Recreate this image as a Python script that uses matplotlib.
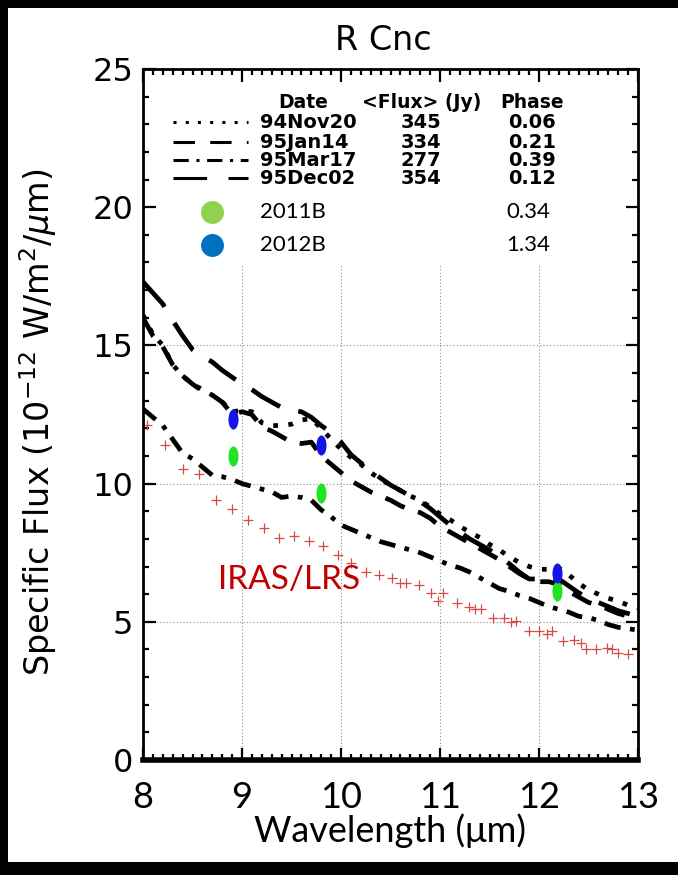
import matplotlib
matplotlib.use('Agg')
import matplotlib.pyplot as plt
from matplotlib.patches import Rectangle
from matplotlib.path import Path
from matplotlib.transforms import Affine2D
from matplotlib.ticker import MultipleLocator

# wavelength grid (um) of the 1994/95 spectra
wave = [8.0, 8.1, 8.2, 8.3, 8.4, 8.5, 8.6, 8.7, 8.8, 8.9,
        9.0, 9.1, 9.2, 9.3, 9.4, 9.5, 9.6, 9.7, 9.8, 9.9,
        10.0, 10.1, 10.2, 10.3, 10.4, 10.5, 10.6, 10.7, 10.8, 10.9,
        11.0, 11.1, 11.2, 11.3, 11.4, 11.5, 11.6, 11.7, 11.8, 11.9,
        12.0, 12.1, 12.2, 12.3, 12.4, 12.5, 12.6, 12.7, 12.8, 12.9, 13.0]

flux_94nov20 = [16.1, 15.4, 15.0, 14.3, 13.9, 13.6, 13.4, 13.2, 12.95, 12.6,
                12.65, 12.6, 12.2, 12.1, 12.1, 12.15, 12.3, 12.35, 12.0, 11.6,
                11.25, 10.95, 10.7, 10.4, 10.15, 9.95, 9.75, 9.55, 9.4, 9.15,
                8.9, 8.7, 8.45, 8.25, 8.05, 7.8, 7.6, 7.35, 7.15, 7.0,
                6.9, 6.9, 6.95, 6.7, 6.4, 6.15, 6.0, 5.85, 5.75, 5.6, 5.5]

flux_95jan14 = [16.0, 15.35, 14.95, 14.3, 13.9, 13.6, 13.35, 13.2, 12.95, 12.5,
                12.6, 12.5, 12.05, 11.9, 11.7, 11.5, 11.45, 11.5, 11.0, 10.7,
                10.4, 10.1, 9.9, 9.7, 9.55, 9.4, 9.2, 9.05, 8.95, 8.75,
                8.45, 8.25, 8.05, 7.85, 7.65, 7.45, 7.25, 7.0, 6.75, 6.55,
                6.45, 6.45, 6.35, 6.1, 5.9, 5.7, 5.6, 5.45, 5.3, 5.2, 5.1]

flux_95mar17 = [12.7, 12.4, 12.1, 11.6, 11.1, 10.9, 10.6, 10.3, 10.25, 10.15,
                10.0, 9.9, 9.8, 9.7, 9.5, 9.55, 9.5, 9.4, 9.05, 8.8,
                8.5, 8.35, 8.2, 8.05, 7.9, 7.8, 7.7, 7.6, 7.5, 7.35,
                7.2, 7.05, 6.95, 6.8, 6.6, 6.4, 6.2, 6.1, 5.95, 5.85,
                5.7, 5.55, 5.45, 5.35, 5.2, 5.15, 5.05, 4.9, 4.8, 4.75, 4.7]

flux_95dec02 = [17.3, 16.9, 16.5, 15.9, 15.35, 14.85, 14.6, 14.4, 14.1, 13.85,
                13.6, 13.4, 13.15, 12.95, 12.75, 12.65, 12.6, 12.4, 12.1, 11.85,
                11.5, 11.05, 10.75, 10.45, 10.2, 9.95, 9.75, 9.55, 9.35, 9.1,
                8.8, 8.5, 8.25, 8.0, 7.8, 7.6, 7.37, 7.1, 6.8, 6.55,
                6.55, 6.6, 6.55, 6.3, 6.05, 5.85, 5.7, 5.55, 5.4, 5.3, 5.2]

dates = ['94Nov20', '95Jan14', '95Mar17', '95Dec02']
mean_flux = ['345', '334', '277', '354']
phases = ['0.06', '0.21', '0.39', '0.12']

# IRAS/LRS spectrum
lrs_wave = [8.04, 8.22, 8.40, 8.57, 8.74, 8.90, 9.06, 9.22, 9.37, 9.53, 9.68,
            9.82, 9.97, 10.10, 10.25, 10.38, 10.52, 10.60, 10.66, 10.79, 10.91,
            10.98, 11.03, 11.17, 11.29, 11.35, 11.41, 11.54, 11.65, 11.72,
            11.77, 11.90, 12.00, 12.08, 12.13, 12.24, 12.35, 12.42, 12.47,
            12.58, 12.69, 12.74, 12.80, 12.90]
lrs_flux = [12.13, 11.40, 10.53, 10.33, 9.40, 9.08, 8.70, 8.39, 8.03, 8.09,
            7.91, 7.73, 7.43, 7.13, 6.79, 6.70, 6.58, 6.40, 6.40, 6.34, 6.04,
            5.74, 6.04, 5.68, 5.53, 5.46, 5.46, 5.13, 5.13, 5.01, 5.03, 4.67,
            4.65, 4.55, 4.67, 4.31, 4.35, 4.25, 4.00, 4.00, 4.04, 4.00, 3.86,
            3.83]

# new photometry
obs_wave = [8.91, 9.80, 12.18]
flux_2011b = [10.99, 9.66, 6.10]
flux_2012b = [12.32, 11.41, 6.76]
obs_labels = ['2011B', '2012B']
obs_phases = ['0.34', '1.34']

plt.rcParams['font.family'] = 'DejaVu Sans'
plt.rcParams['mathtext.fontset'] = 'dejavusans'

fig = plt.figure(figsize=(6.78, 8.75), dpi=100)
fig.patch.set_facecolor('black')
# white slide area, thin black frame on left/top/bottom
fig.add_artist(Rectangle((8 / 678, 1 - 862 / 875), 2, 854 / 875,
                         transform=fig.transFigure, facecolor='white',
                         edgecolor='none', zorder=-1))

ax = fig.add_axes([143 / 678, 1 - 760 / 875, 495 / 678, 691 / 875])

# dotted grid (only below the legend)
ax.vlines([9, 10, 11, 12], 0, 17.9, colors='#8c8c8c', linestyles=(0, (1, 2)), lw=0.8, zorder=1)
ax.hlines([5, 10, 15], 8, 13, colors='#8c8c8c', linestyles=(0, (1, 2)), lw=0.8, zorder=1)

styles = [(0, (1, 2.2)), (0, (4.5, 3)), (0, (3.5, 2, 1, 2)), (0, (7, 4))]
curves = [flux_94nov20, flux_95jan14, flux_95mar17, flux_95dec02]
for f, ls in zip(curves, styles):
    ax.plot(wave, f, color='black', lw=3.4, ls=ls, zorder=3)

ax.plot(lrs_wave, lrs_flux, ls='none', marker='+', ms=7, mew=0.9,
        color='#d64a4a', zorder=2)
ax.text(8.76, 6.5, 'IRAS/LRS', color='#c00000', fontsize=24,
        family='Lato', ha='left', va='center')

# tall ellipse marker
ellipse = Path.unit_circle().transformed(Affine2D().scale(0.5, 1.0))
ax.plot(obs_wave, flux_2011b, ls='none', marker=ellipse, ms=14.5,
        color='#22e322', mec='none', zorder=4)
ax.plot(obs_wave, flux_2012b, ls='none', marker=ellipse, ms=14.5,
        color='#1414e6', mec='none', zorder=4)

# legend table
tr = ax.transAxes
hdr_y = 0.952
row_y = [0.923, 0.894, 0.868, 0.842]
obs_y = [0.793, 0.745]
ax.text(0.323, hdr_y, 'Date', transform=tr, ha='center', va='center', fontsize=13.5, weight='bold')
ax.text(0.562, hdr_y, '<Flux> (Jy)', transform=tr, ha='center', va='center', fontsize=13.5, weight='bold')
ax.text(0.786, hdr_y, 'Phase', transform=tr, ha='center', va='center', fontsize=13.5, weight='bold')
leg_styles = [(0, (1, 3)), (0, (7, 5)), (0, (5, 2.5, 1, 2.5)), (0, (11, 7))]
for y, d, fl, ph, ls in zip(row_y, dates, mean_flux, phases, leg_styles):
    ax.plot([0.061, 0.212], [y, y], transform=tr, color='black', lw=2.2, ls=ls)
    ax.text(0.236, y, d, transform=tr, ha='left', va='center', fontsize=14, weight='bold')
    ax.text(0.562, y, fl, transform=tr, ha='center', va='center', fontsize=14, weight='bold')
    ax.text(0.786, y, ph, transform=tr, ha='center', va='center', fontsize=14, weight='bold')
for y, lab, ph, c in zip(obs_y, obs_labels, obs_phases, ['#92d050', '#0070c0']):
    ax.plot([0.139], [y], transform=tr, marker='o', ms=16.5, color=c, mec='none')
    ax.text(0.236, y, lab, transform=tr, ha='left', va='center', fontsize=16, family='Lato')
    ax.text(0.778, y, ph, transform=tr, ha='center', va='center', fontsize=16, family='Lato')

ax.set_xlim(8, 13)
ax.set_ylim(0, 25)
ax.set_xticks([8, 9, 10, 11, 12, 13])
ax.set_yticks([0, 5, 10, 15, 20, 25])
ax.xaxis.set_minor_locator(MultipleLocator(0.1))
ax.yaxis.set_minor_locator(MultipleLocator(1))
ax.tick_params(which='both', direction='in', top=True, right=True, width=1.6)
ax.tick_params(which='major', length=9)
ax.tick_params(which='minor', length=4)
ax.tick_params(axis='y', labelsize=23, pad=7)
ax.tick_params(axis='x', pad=15)
for lbl in ax.get_xticklabels():
    lbl.set_family('Lato')
    lbl.set_fontsize(26)
for side in ['left', 'right', 'top']:
    ax.spines[side].set_linewidth(2)
ax.spines['bottom'].set_linewidth(4)

ax.set_xlabel('Wavelength (μm)', fontsize=26, family='Lato', labelpad=0)
fig.text(38 / 678, 1 - 422 / 875, r'Specific Flux (10$^{-12}$ W/m$^2$/$\mu$m)',
         rotation=90, ha='center', va='center', fontsize=24)
fig.text(383 / 678, 1 - 41 / 875, 'R Cnc', ha='center', va='center', fontsize=24)

fig.savefig('out.png', dpi=100, facecolor=fig.get_facecolor())
